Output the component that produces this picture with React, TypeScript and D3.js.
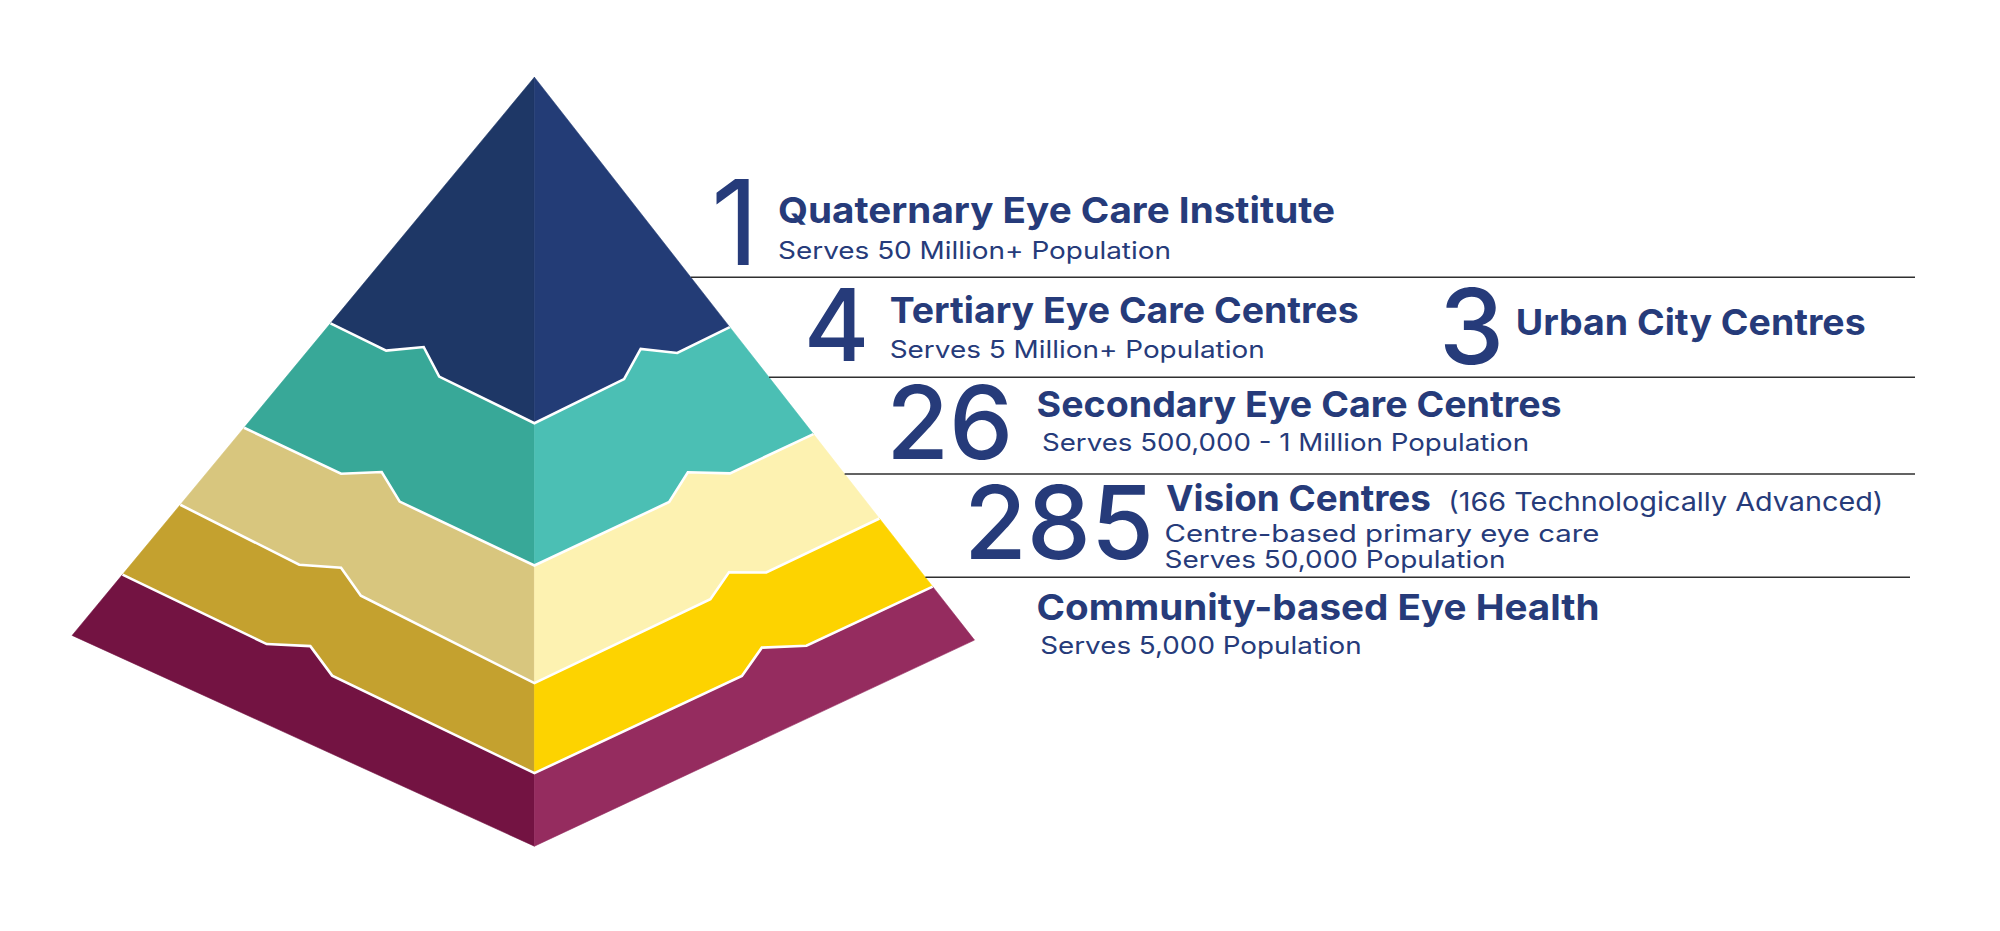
import { useMemo } from "react";
import * as d3 from "d3";

// ---------- data ----------
const tierNames = ["Quaternary", "Tertiary", "Secondary", "Vision", "Community"];
const leftShades = ["#1e3766", "#38a898", "#d8c67e", "#c4a12f", "#731342"];
const rightShades = ["#233c76", "#4bbfb4", "#fdf2b1", "#fdd300", "#952c5f"];

const counts = ["1", "4", "3", "26", "285"];
const titles = [
  "Quaternary Eye Care Institute",
  "Tertiary Eye Care Centres",
  "Urban City Centres",
  "Secondary Eye Care Centres",
  "Vision Centres",
  "Community-based Eye Health",
];
const noteText = "(166 Technologically Advanced)";
const subtitles = [
  "Serves 50 Million+ Population",
  "Serves 5 Million+ Population",
  "Serves 500,000 - 1 Million Population",
  "Centre-based primary eye care",
  "Serves 50,000 Population",
  "Serves 5,000 Population",
];

// ---------- geometry / layout ----------
const W = 2000;
const H = 931;
const INK = "#263b7a";

type Pt = [number, number];

const APEX: Pt = [534.4, 77.2];
const BASE_L: Pt = [72.1, 635.4];
const BASE_C: Pt = [534.4, 846.2];
const BASE_R: Pt = [974.5, 640.1];

// where each layer boundary meets the left edge, the centre line and the right edge
// (0 = apex, 1 = base)
const boundaryLeft = [0.441, 0.628, 0.766, 0.891];
const boundaryMid = [0.45, 0.635, 0.788, 0.905];
const boundaryRight = [0.444, 0.634, 0.784, 0.905];
// notch on each boundary: [start, raised corner, end] as fraction of half width
const notchLeft = [
  [0.273, 0.457, 0.533],
  [0.334, 0.474, 0.536],
  [0.336, 0.454, 0.51],
  [0.35, 0.456, 0.509],
];
const notchRight = [
  [0.459, 0.544, 0.731],
  [0.483, 0.55, 0.701],
  [0.51, 0.564, 0.672],
  [0.521, 0.571, 0.683],
];
const notchRaise = [22, 21, 18, 19];

const ruleY = [277.3, 377.3, 474, 577.3];
const ruleEnd = [1915, 1915, 1915, 1910];

// an edge from the apex to a base corner, as a pair of linear scales
function edge(to: Pt) {
  const x = d3.scaleLinear().domain([0, 1]).range([APEX[0], to[0]]);
  const y = d3.scaleLinear().domain([0, 1]).range([APEX[1], to[1]]);
  return (f: number): Pt => [x(f), y(f)];
}
const leftEdge = edge(BASE_L);
const midEdge = edge(BASE_C);
const rightEdge = edge(BASE_R);

const lerp = (a: Pt, b: Pt, t: number): Pt => [a[0] + (b[0] - a[0]) * t, a[1] + (b[1] - a[1]) * t];

function leftHalf(i: number): Pt[] {
  const L = leftEdge(boundaryLeft[i]);
  const C = midEdge(boundaryMid[i]);
  const [a, q, b] = notchLeft[i];
  const Q = lerp(L, C, q);
  return [L, lerp(L, C, a), [Q[0], Q[1] - notchRaise[i]], lerp(L, C, b), C];
}

function rightHalf(i: number): Pt[] {
  const C = midEdge(boundaryMid[i]);
  const R = rightEdge(boundaryRight[i]);
  const [a, q, b] = notchRight[i];
  const Q = lerp(C, R, q);
  return [C, lerp(C, R, a), [Q[0], Q[1] - notchRaise[i]], lerp(C, R, b), R];
}

const line = d3.line<Pt>();

// x of pyramid right edge at a given y
const edgeX = d3
  .scaleLinear()
  .domain([APEX[1], BASE_R[1]])
  .range([APEX[0], BASE_R[0]]);

const numberPos = [
  { cx: 735, y: 265, size: 118, weight: 400 },
  { cx: 836.5, y: 361, size: 100, weight: 500 },
  { cx: 1471.5, y: 364, size: 104, weight: 500 },
  { cx: 949.7, y: 459, size: 102, weight: 500 },
  { cx: 1059, y: 559, size: 102, weight: 500 },
];
const titlePos = [
  { x: 778, y: 223.3, w: 557 },
  { x: 889.7, y: 323.3, w: 469 },
  { x: 1515.7, y: 335, w: 350 },
  { x: 1036.6, y: 417, w: 525 },
  { x: 1166, y: 511, w: 265 },
  { x: 1036.5, y: 620, w: 563 },
];
const notePos = { x: 1448.3, y: 511, w: 435 };
const subPos = [
  { x: 778, y: 259.3, w: 393 },
  { x: 889.7, y: 358.3, w: 375 },
  { x: 1042, y: 451.3, w: 487 },
  { x: 1164.5, y: 541.5, w: 435 },
  { x: 1164.5, y: 568, w: 341 },
  { x: 1040.2, y: 654, w: 321.5 },
];

const FONT = "Inter, 'Noto Sans', sans-serif";

export default function App() {
  const layers = useMemo(() => {
    return tierNames.map((name, i) => {
      const upL: Pt[] = i === 0 ? [APEX] : leftHalf(i - 1);
      const upR: Pt[] = i === 0 ? [APEX] : rightHalf(i - 1);
      const loL: Pt[] = i === tierNames.length - 1 ? [BASE_L, BASE_C] : leftHalf(i);
      const loR: Pt[] = i === tierNames.length - 1 ? [BASE_C, BASE_R] : rightHalf(i);
      const left = [...upL, ...loL.slice().reverse()];
      const right = [...upR, ...loR.slice().reverse()];
      return { name, left, right, i };
    });
  }, []);

  const seams = boundaryMid.map((_, i) => [...leftHalf(i), ...rightHalf(i).slice(1)]);

  return (
    <svg
      width={W}
      height={H}
      viewBox={`0 0 ${W} ${H}`}
      style={{ position: "absolute", left: 0, top: 0, background: "#fff" }}
    >
      <rect width={W} height={H} fill="#fff" />
      <g>
        {layers.map((d) => (
          <g key={d.name}>
            <path
              d={line(d.left) + "Z"}
              fill={leftShades[d.i]}
              stroke={leftShades[d.i]}
              strokeWidth={0.6}
            />
            <path
              d={line(d.right) + "Z"}
              fill={rightShades[d.i]}
              stroke={rightShades[d.i]}
              strokeWidth={0.6}
            />
          </g>
        ))}
        {seams.map((pts, i) => (
          <path
            key={i}
            d={line(pts) ?? ""}
            fill="none"
            stroke="#fff"
            strokeWidth={2.6}
            strokeLinejoin="miter"
          />
        ))}
      </g>

      <g stroke="#2f2f2f" strokeWidth={1.6}>
        {ruleY.map((y, i) => (
          <line key={i} x1={edgeX(y)} x2={ruleEnd[i]} y1={y} y2={y} />
        ))}
      </g>

      <g fill={INK} fontFamily={FONT}>
        {counts.map((c, i) => (
          <text
            key={c}
            x={numberPos[i].cx}
            y={numberPos[i].y}
            fontSize={numberPos[i].size}
            fontWeight={numberPos[i].weight}
            textAnchor="middle"
          >
            {c}
          </text>
        ))}
        {titles.map((t, i) => (
          <text
            key={t}
            x={titlePos[i].x}
            y={titlePos[i].y}
            fontSize={36}
            fontWeight={700}
            textLength={titlePos[i].w}
            lengthAdjust="spacingAndGlyphs"
          >
            {t}
          </text>
        ))}
        <text
          x={notePos.x}
          y={notePos.y}
          fontSize={26}
          fontWeight={400}
          textLength={notePos.w}
          lengthAdjust="spacingAndGlyphs"
        >
          {noteText}
        </text>
        {subtitles.map((t, i) => (
          <text
            key={t}
            x={subPos[i].x}
            y={subPos[i].y}
            fontSize={24}
            fontWeight={400}
            textLength={subPos[i].w}
            lengthAdjust="spacingAndGlyphs"
          >
            {t}
          </text>
        ))}
      </g>
    </svg>
  );
}
